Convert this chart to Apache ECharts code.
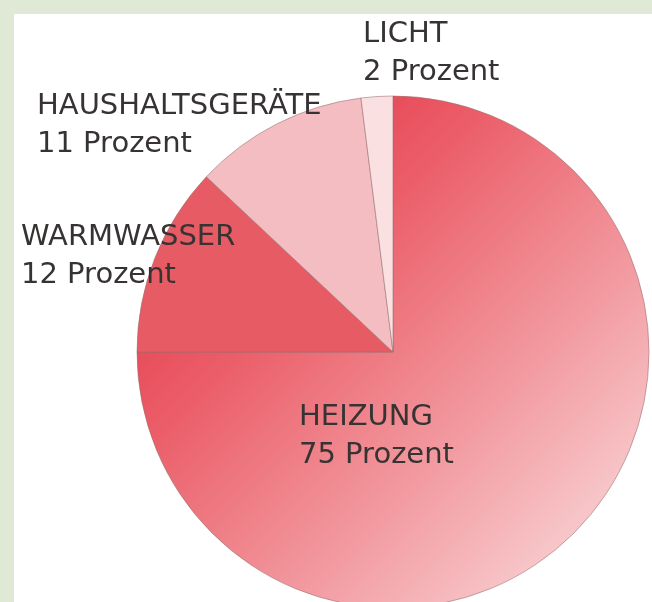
<!DOCTYPE html>
<html>
<head>
<meta charset="utf-8">
<script src="https://cdn.jsdelivr.net/npm/echarts@6/dist/echarts.min.js"></script>
<style>
  html, body { margin: 0; padding: 0; background: #e0e8d6; }
  #chart { position: absolute; left: 14px; top: 14px; width: 638px; height: 588px; background: #ffffff; }
</style>
</head>
<body>
<div id="chart"></div>
<script>
// Energieverbrauch im Haushalt (Prozent)
var categories = ['HEIZUNG', 'WARMWASSER', 'HAUSHALTSGERÄTE', 'LICHT'];
var values = [75, 12, 11, 2];

// Farben der Segmente
var heizungColor = new echarts.graphic.LinearGradient(0, 0, 1, 1, [
    { offset: 0, color: '#e0233a' },
    { offset: 0.35, color: '#eb5e69' },
    { offset: 0.65, color: '#f29ba1' },
    { offset: 1, color: '#fbe6e7' }
]);
var colors = [heizungColor, '#e75b65', '#f4bdc2', '#fbe0e2'];

// Position der Beschriftungen (links oben, im Chart-Koordinatensystem)
var labelPos = [[285, 384], [7, 204], [23, 73], [349, 1]];

var myChart = echarts.init(document.getElementById('chart'));

var option = {
    animation: false,
    series: [
        {
            type: 'pie',
            center: [379, 338],
            radius: 256,
            startAngle: 90,
            clockwise: true,
            avoidLabelOverlap: false,
            data: categories.map(function (name, i) {
                return { name: name, value: values[i], itemStyle: { color: colors[i] } };
            }),
            itemStyle: {
                borderColor: 'rgba(150,110,110,0.55)',
                borderWidth: 1
            },
            label: {
                show: true,
                formatter: '{b}\n{c} Prozent',
                fontFamily: 'DejaVu Sans',
                fontSize: 29,
                lineHeight: 38,
                color: '#383333'
            },
            labelLine: { show: false },
            labelLayout: function (params) {
                var p = labelPos[params.dataIndex];
                return { x: p[0], y: p[1], align: 'left', verticalAlign: 'top' };
            },
            emphasis: { disabled: true }
        }
    ]
};

myChart.setOption(option);
</script>
</body>
</html>
